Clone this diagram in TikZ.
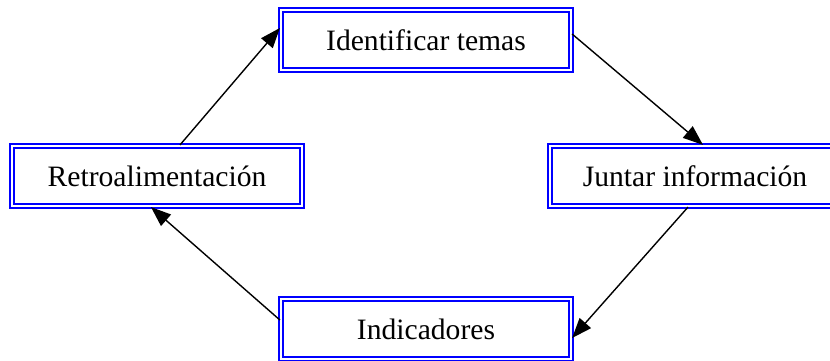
\documentclass[tikz,border=0pt]{standalone}
\usepackage{fontspec}
\setmainfont{Liberation Serif}
\usetikzlibrary{arrows.meta}

\begin{document}
\begin{tikzpicture}[x=0.5pt,y=-0.5pt,
    caja/.style={draw=blue, line width=1.1pt, double=white, double distance=1pt,
      minimum width=145pt, minimum height=30pt, inner sep=0pt,
      font=\fontsize{14.8}{17}\selectfont},
    flecha/.style={line width=0.7pt, -{Triangle[length=10pt,width=7.5pt]}}]
            \useasboundingbox (0,0) rectangle (830,360);
            \clip (0,0) rectangle (830,360);
            \node[caja] at (426,40) (ident) {Identificar temas};
            \node[caja] at (157,176) (retro) {Retroalimentación};
            \node[caja] at (695,176) (juntar) {Juntar información};
            \node[caja] at (426,329) (indic) {Indicadores};

            \draw[flecha] ([xshift=11.5pt]retro.north) -- ([yshift=6pt]ident.west);
            \draw[flecha] ([yshift=3pt]ident.east) -- ([xshift=4pt]juntar.north);
            \draw[flecha] ([xshift=-3.5pt]juntar.south) -- ([yshift=-4.5pt]indic.east);
            \draw[flecha] ([yshift=4.5pt]indic.west) -- ([xshift=-3pt]retro.south);
        \end{tikzpicture}
\end{document}
